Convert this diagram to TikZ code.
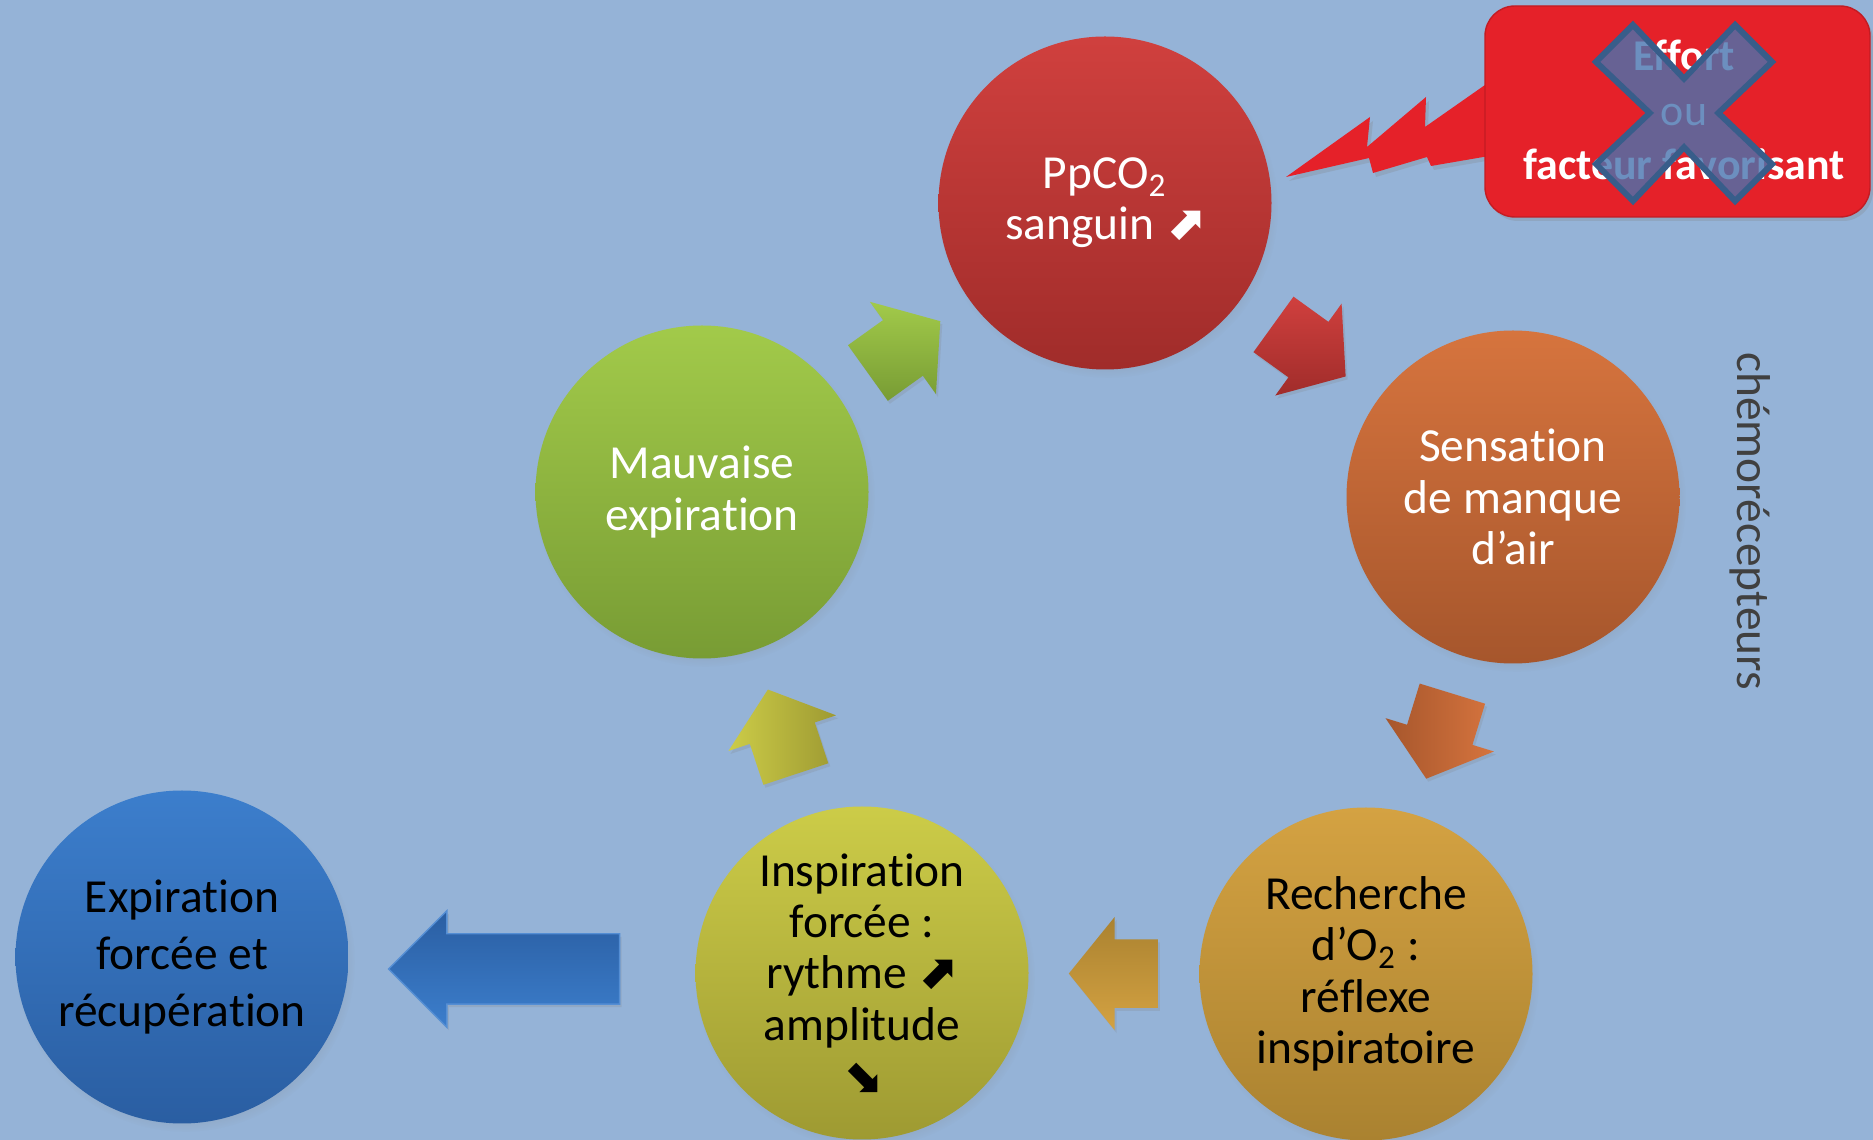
\documentclass[tikz,border=0pt]{standalone}
\usepackage{fontspec}
\setmainfont{Carlito}[Ligatures=NoCommon]
\newfontfamily\flechefont{DejaVu Sans}
\usepackage{tikz}
\usetikzlibrary{positioning,calc,shapes.arrows,shadows}

\definecolor{fond}{RGB}{149,179,215}
\definecolor{rougeH}{RGB}{208,64,62}
\definecolor{rougeB}{RGB}{160,44,42}
\definecolor{orangeH}{RGB}{214,116,62}
\definecolor{orangeB}{RGB}{166,86,44}
\definecolor{dorH}{RGB}{212,162,66}
\definecolor{dorB}{RGB}{170,130,48}
\definecolor{jauneH}{RGB}{204,204,72}
\definecolor{jauneB}{RGB}{158,154,50}
\definecolor{vertH}{RGB}{162,202,74}
\definecolor{vertB}{RGB}{120,156,52}
\definecolor{bleuH}{RGB}{60,126,204}
\definecolor{bleuB}{RGB}{42,94,162}
\definecolor{bleuBord}{RGB}{84,142,212}
\definecolor{alerte}{RGB}{229,33,41}
\definecolor{croix}{RGB}{72,115,175}
\definecolor{croixBord}{RGB}{56,93,138}
\definecolor{grisTexte}{RGB}{64,64,64}

\begin{document}
\begin{tikzpicture}[
    etape/.style={circle, minimum size=3.33cm, inner sep=0pt, align=center,
                  font=\fontsize{13.5}{14.6}\selectfont,
                  circular drop shadow={shadow xshift=0.03cm, shadow yshift=-0.05cm,
                                        shadow scale=1.02, opacity=0.35}},
    fleche/.style={single arrow, minimum height=0.89cm, minimum width=1.12cm,
                   single arrow head extend=0.225cm, single arrow tip angle=102,
                   inner xsep=0pt, inner ysep=0.335cm, anchor=tail,
                   drop shadow={shadow xshift=0.02cm, shadow yshift=-0.03cm, opacity=0.2}},
    ombre/.style={drop shadow={shadow xshift=0.03cm, shadow yshift=-0.04cm, opacity=0.25}},
  ]
  \useasboundingbox (0,0) rectangle (18.73,11.40);
  \fill[fond] (0,0) rectangle (18.73,11.40);

  % eclair + cadre rouge
  \fill[alerte, ombre] (12.86,9.63) -- (13.70,10.23) -- (13.67,9.93) -- (14.26,10.43)
    -- (14.25,10.13) -- (14.95,10.62) -- (14.95,9.85) -- (14.31,9.74) -- (14.27,9.83)
    -- (13.73,9.67) -- (13.69,9.82) -- cycle;
  \node[draw=alerte!85!black, fill=alerte, rounded corners=0.3cm, ombre,
        minimum width=3.85cm, minimum height=2.11cm] (cadre) at (16.775,10.285) {};
  \node[align=center, text=white, font=\fontsize{12.5}{15.6}\selectfont] (effort)
    at (16.84,10.30) {\textbf{Effort}\\ou\\\textbf{facteur favorisant}};

  % croix par-dessus
  \coordinate (croixc) at (16.84,10.27);
  \begin{scope}[shift={(croixc)}, scale=0.88]
    \filldraw[fill=croix, fill opacity=0.8, draw=croixBord, line width=1.7pt,
              line join=miter]
      (-1,0.58) -- (-0.58,1) -- (0,0.39) -- (0.58,1) -- (1,0.58) -- (0.39,0)
      -- (1,-0.58) -- (0.58,-1) -- (0,-0.39) -- (-0.58,-1) -- (-1,-0.58)
      -- (-0.39,0) -- cycle;
  \end{scope}

  % cycle des etapes
  \node[etape, top color=rougeH, bottom color=rougeB, text=white] (co2)
    at (11.05,9.37) {PpCO\textsubscript{2}\\sanguin {\flechefont\bfseries ⬈}};
  \node[etape, top color=orangeH, bottom color=orangeB, text=white] (manque)
    at (15.13,6.43) {Sensation\\de manque\\d’air};
  \node[etape, top color=dorH, bottom color=dorB, text=black] (reflexe)
    at (13.66,1.66) {Recherche\\d’O\textsubscript{2} :\\réflexe\\inspiratoire};
  \node[etape, top color=jauneH, bottom color=jauneB, text=black] (insp)
    at (8.62,1.67) {Inspiration\\forcée :\\rythme {\flechefont\bfseries ⬈}\\amplitude\\{\flechefont\bfseries ⬊}};
  \node[etape, top color=vertH, bottom color=vertB, text=white] (mauv)
    at (7.02,6.48) {Mauvaise\\expiration};
  \node[etape, top color=bleuH, bottom color=bleuB, text=black,
        font=\fontsize{13.5}{16.3}\selectfont] (expi)
    at (1.82,1.83) {Expiration\\forcée et\\récupération};

  % fleches entre les etapes (queue a 0.445cm du milieu)
  \node[fleche, top color=vertH, bottom color=vertB, rotate=35.6] (f1)
    at ($($(mauv)!0.5!(co2)$)!0.445cm!(mauv)$) {};
  \node[fleche, top color=rougeH, bottom color=rougeB, rotate=-35.8] (f2)
    at ($($(co2)!0.5!(manque)$)!0.445cm!(co2)$) {};
  \node[fleche, left color=orangeB, right color=orangeH, rotate=-107.1] (f3)
    at ($($(manque)!0.5!(reflexe)$)!0.445cm!(manque)$) {};
  \node[fleche, top color=dorB, bottom color=dorH, rotate=180] (f4)
    at ($($(reflexe)!0.5!(insp)$)!0.445cm!(reflexe)$) {};
  \node[fleche, left color=jauneH, right color=jauneB, rotate=108.3] (f5)
    at ($($(insp)!0.5!(mauv)$)!0.445cm!(insp)$) {};
  \node[fleche, minimum height=2.31cm, minimum width=1.15cm, inner ysep=0.345cm,
        single arrow head extend=0.23cm, single arrow tip angle=90,
        top color=bleuB, bottom color=bleuH, draw=bleuBord, thin, rotate=180] (f6)
    at ($(insp.west)+(-0.745,0.04)$) {};

  \node[rotate=-90, text=grisTexte, font=\fontsize{13.5}{14.6}\selectfont] (chemo)
    at (17.50,6.19) {chémorécepteurs};
\end{tikzpicture}
\end{document}
